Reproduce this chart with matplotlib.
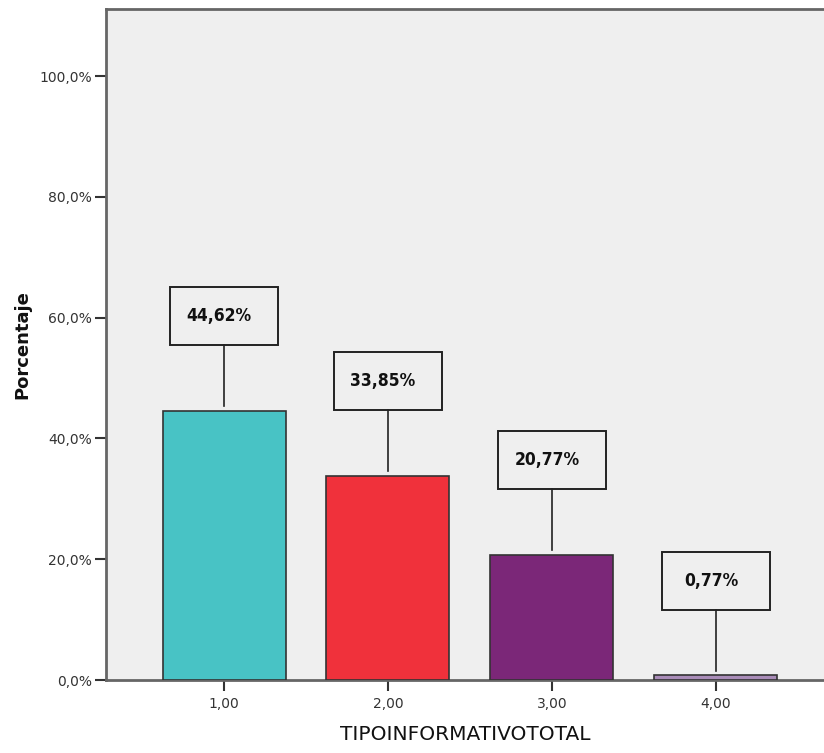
import matplotlib
matplotlib.use("Agg")
import matplotlib.pyplot as plt
from matplotlib.patches import Rectangle

categories = ["1,00", "2,00", "3,00", "4,00"]
positions = [1, 2, 3, 4]
values = [44.62, 33.85, 20.77, 0.77]
value_labels = ["44,62%", "33,85%", "20,77%", "0,77%"]
bar_colors = ["#48C3C5", "#F0313B", "#7B2778", "#A98CB8"]
yticks = [0, 20, 40, 60, 80, 100]
ytick_labels = ["0,0%", "20,0%", "40,0%", "60,0%", "80,0%", "100,0%"]

W, H = 824, 753
fig = plt.figure(figsize=(W / 100, H / 100), dpi=100)
fig.patch.set_facecolor("white")
ax = fig.add_axes([106 / W, 1 - 680 / H, 1 - 106 / W, (680 - 9) / H])
ax.set_facecolor("#EFEFEF")

ax.bar(positions, values, width=0.75, color=bar_colors, edgecolor="#333333",
       linewidth=1.2, zorder=3)

ax.set_xlim(0.28, 4.66)
ax.set_ylim(0, 111.1)

# annotation boxes
box_w, box_h, gap = 0.66, 9.6, 10.8
for x, v, lab in zip(positions, values, value_labels):
    y0 = v + gap
    ax.plot([x, x], [v + 0.8, y0], color="#222222", lw=1.2, zorder=4)
    ax.add_patch(Rectangle((x - box_w / 2, y0), box_w, box_h, facecolor="none",
                           edgecolor="#222222", lw=1.4, zorder=4))
    ax.text(x - 0.03, y0 + box_h / 2, lab, ha="center", va="center",
            fontsize=12.5, fontweight="bold", fontstretch="condensed",
            family=["DejaVu Sans"], color="#111111", zorder=5)

ax.set_xticks(positions)
ax.set_xticklabels(categories)
ax.set_yticks(yticks)
ax.set_yticklabels(ytick_labels)
ax.tick_params(axis="both", labelsize=10, colors="#333333", length=8, width=1.5)
ax.tick_params(axis="x", pad=4)
ax.tick_params(axis="y", pad=2)

for s in ["left", "top", "bottom"]:
    ax.spines[s].set_color("#666666")
    ax.spines[s].set_linewidth(2)
ax.spines["right"].set_visible(False)

ax.set_xlabel("TIPOINFORMATIVOTOTAL", fontsize=14.5, color="#111111", labelpad=10)
ax.set_ylabel("Porcentaje", fontsize=13, fontweight="bold", color="#111111",
              labelpad=6)

fig.savefig("out.png", dpi=100)
